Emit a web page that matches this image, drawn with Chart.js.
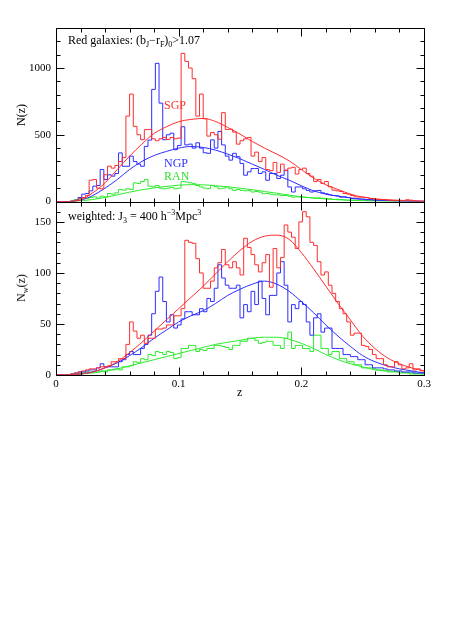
<!DOCTYPE html>
<html>
<head>
<meta charset="utf-8">
<script src="https://cdn.jsdelivr.net/npm/chart.js@4.4.0/dist/chart.umd.min.js"></script>
<style>
  body { margin: 0; background: #fff; }
  #wrap { position: relative; width: 463px; height: 625px; }
  #nz { position: absolute; left: 0; top: 0; }
  .lbl { position: absolute; font-family: "Liberation Serif", serif; font-size: 12px; color: #000; white-space: nowrap; line-height: 12px; }
  .lbl sub, .lbl sup { font-size: 8px; line-height: 0; }
  .lbl sub { vertical-align: -3px; }
  .lbl sup { vertical-align: 5px; }
  .ytitle { transform: translate(-50%, -50%) rotate(-90deg); }
</style>
</head>
<body>
<div id="wrap">
  <canvas id="nz" width="463" height="625"></canvas>
  <div class="lbl" style="left:68px;top:34px;">Red galaxies: (b<sub>J</sub>&minus;r<sub>F</sub>)<sub>0</sub>&gt;1.07</div>
  <div class="lbl" style="left:68px;top:210px;">weighted: J<sub>3</sub> = 400 h<sup>&minus;3</sup>Mpc<sup>3</sup></div>
  <div class="lbl" style="left:164px;top:99px;color:#ff3030;">SGP</div>
  <div class="lbl" style="left:164px;top:157px;color:#3030ff;">NGP</div>
  <div class="lbl" style="left:164px;top:170px;color:#30e030;">RAN</div>
  <div class="lbl ytitle" style="left:21px;top:115px;">N(z)</div>
  <div class="lbl ytitle" style="left:21px;top:288px;">N<sub>w</sub>(z)</div>
  <div class="lbl" style="left:237px;top:386px;">z</div>
</div>
<script>
// histogram bins of width 0.003 in z, from 0 to 0.3
const binWidth = 0.003;

const sgpTop = [
  0,0,0,0,2,8,20,30,45,160,
  165,100,95,200,265,250,270,300,330,640,
  805,563,500,463,538,540,470,455,470,480,
  465,480,470,475,1110,1050,1000,920,640,805,
  620,490,517,500,467,666,540,542,520,430,
  455,470,480,340,370,300,330,240,231,293,
  218,280,231,250,256,206,240,250,210,190,
  150,165,135,150,110,85,80,75,60,55,
  45,35,33,33,30,22,20,15,15,14,
  12,10,10,9,8,13,10,5,4,3];
const ngpTop = [
  0,0,0,0,3,10,30,55,60,80,
  115,120,240,165,200,190,210,364,264,264,
  340,300,280,264,413,460,840,1035,737,463,
  500,512,388,420,560,424,430,400,440,400,
  365,361,462,400,525,424,340,310,361,336,
  285,197,222,247,247,210,222,159,210,210,
  172,197,235,109,71,109,109,95,83,71,
  80,83,65,58,50,45,42,33,35,30,
  22,20,18,17,13,14,12,10,9,8,
  7,6,5,4,3,3,2,2,1,1];
const ranTop = [
  0,0,0,0,5,15,20,25,20,30,
  35,25,40,35,60,55,65,90,85,95,
  90,140,135,150,165,115,110,120,100,95,
  100,105,95,100,150,146,140,134,120,109,
  100,96,121,110,96,100,109,95,83,90,
  83,80,83,71,75,70,58,60,55,50,
  50,45,45,40,33,35,33,33,30,28,
  25,27,25,22,20,15,17,15,12,10,
  10,9,8,7,6,5,5,4,4,3,
  3,2,2,2,1,1,1,1,0,0];

const sgpBot = [
  0,0,0,0,1,2,3,4,5,6,
  6,7,8,8,9,13,13,16,16,30,
  52,43,36,39,31,36,36,45,45,46,
  49,49,58,58,65,132,130,129,114,100,
  85,85,92,105,110,123,108,105,111,105,
  98,134,125,118,108,101,110,118,86,124,
  105,115,147,140,135,124,150,160,155,130,
  127,111,98,101,88,80,72,65,60,52,
  39,41,41,29,28,25,20,16,16,10,
  8,8,13,10,6,7,11,5,6,4];
const ngpBot = [
  0,0,0,0,1,2,3,3,4,5,
  5,7,11,8,8,8,8,13,15,20,
  23,20,20,26,30,39,60,82,96,72,
  52,59,46,49,55,62,62,59,59,65,
  62,75,72,85,108,95,88,85,85,88,
  56,69,62,82,69,92,75,59,78,78,
  100,111,88,52,69,65,72,69,52,39,
  56,60,42,46,46,26,26,26,20,20,
  18,18,15,15,10,10,7,7,7,6,
  5,5,4,4,3,3,3,2,2,2];
const ranBot = [
  0,0,0,0,1,1,2,2,3,3,
  3,3,4,3,5,5,6,5,8,8,
  9,13,12,16,15,20,19,23,22,20,
  23,22,16,17,26,26,29,29,23,25,
  24,26,26,29,29,28,27,25,29,29,
  33,33,36,36,34,31,32,33,33,29,
  29,26,36,42,26,29,29,26,26,23,
  39,39,26,26,20,23,23,16,16,13,
  13,10,10,7,7,7,6,5,5,4,
  3,3,3,2,2,2,1,1,1,1];

// smooth model curves (random catalogue), sampled every 0.01
const zModel = [0,0.01,0.02,0.03,0.04,0.05,0.06,0.07,0.08,0.09,0.10,0.11,0.12,0.13,0.14,0.15,
                0.16,0.17,0.18,0.19,0.20,0.21,0.22,0.23,0.24,0.25,0.26,0.27,0.28,0.29,0.30];
const sgpTopModel = [0,0,12,65,140,240,340,430,510,560,598,615,622,600,555,505,450,400,355,305,240,175,125,90,55,33,20,12,6,3,1];
const ngpTopModel = [0,0,10,45,100,165,240,300,345,375,400,412,405,385,355,320,280,240,197,160,118,80,55,40,27,17,11,7,4,2,1];
const ranTopModel = [0,0,4,15,30,50,70,88,102,113,122,126,125,118,110,100,88,75,62,48,35,26,19,13,9,6,4,3,2,1,0];
const sgpBotModel = [0,0,1,3,7,13,22,32,43,54,65,76,87,99,111,122,131,136,137,133,120,104,87,70,54,38,26,17,11,7,4];
const ngpBotModel = [0,0,1,3,7,12,19,27,36,44,52,58,63,70,78,84,89,92,89,82,72,61,49,38,28,19,13,9,6,4,2];
const ranBotModel = [0,0,1,2,4,6,9,12,15,18,21,24,27,30,32,34,36,37,37,35,31,26,20,15,11,8,5,4,3,2,1];

const xTickLabels = ['0', '0.1', '0.2', '0.3'];
const yTopTicks = [0, 500, 1000];
const yBotTicks = [0, 50, 100, 150];

const red = 'rgb(255,45,45)';
const blue = 'rgb(45,45,255)';
const green = 'rgb(45,235,45)';

function hist(vals) {
  const pts = vals.map((v, i) => ({ x: i * binWidth, y: v }));
  pts.push({ x: vals.length * binWidth, y: vals[vals.length - 1] });
  return pts;
}
function curve(vals) {
  return zModel.map((z, i) => ({ x: z, y: vals[i] }));
}
function histSet(vals, color, axis) {
  return { data: hist(vals), yAxisID: axis, borderColor: color, borderWidth: 1,
           stepped: true, pointRadius: 0, fill: false };
}
function curveSet(vals, color, axis) {
  return { data: curve(vals), yAxisID: axis, borderColor: color, borderWidth: 1,
           cubicInterpolationMode: 'monotone', pointRadius: 0, fill: false };
}

// panel frames with inward ticks on all four sides
const panels = [
  { id: 'yTop', max: 1300, minor: 100, major: 500 },
  { id: 'yBot', max: 170, minor: 10, major: 50 }
];
const frameTicks = {
  id: 'frameTicks',
  afterDatasetsDraw(chart) {
    const ctx = chart.ctx;
    const xs = chart.scales.x;
    const left = Math.round(chart.chartArea.left) + 0.5;
    const right = Math.round(chart.chartArea.right) + 0.5;
    ctx.save();
    ctx.strokeStyle = '#000';
    ctx.lineWidth = 1;
    ctx.beginPath();
    panels.forEach(p => {
      const ys = chart.scales[p.id];
      const top = Math.round(ys.top) + 0.5;
      const bottom = Math.round(ys.bottom) + 0.5;
      ctx.rect(left, top, right - left, bottom - top);
      for (let k = 0; k <= 15; k++) {
        const px = Math.round(xs.getPixelForValue(k * 0.02)) + 0.5;
        const len = k % 5 === 0 ? 8 : 4;
        ctx.moveTo(px, bottom); ctx.lineTo(px, bottom - len);
        ctx.moveTo(px, top); ctx.lineTo(px, top + len);
      }
      for (let v = 0; v <= p.max; v += p.minor) {
        const py = Math.round(ys.getPixelForValue(v)) + 0.5;
        const len = v % p.major === 0 ? 8 : 4;
        ctx.moveTo(left, py); ctx.lineTo(left + len, py);
        ctx.moveTo(right, py); ctx.lineTo(right - len, py);
      }
    });
    ctx.stroke();
    ctx.restore();
  }
};

const tickFont = { family: '"Liberation Serif", serif', size: 11 };

function yScale(max, tickVals) {
  return {
    type: 'linear', position: 'left', stack: 'panels', stackWeight: 1,
    min: 0, max: max,
    grid: { display: false, drawTicks: false },
    border: { display: false },
    ticks: { color: '#000', font: tickFont, padding: 5, callback: (v) => String(v) },
    afterBuildTicks(s) { s.ticks = tickVals.map(v => ({ value: v })); },
    afterFit(s) { s.width = 56; }
  };
}

new Chart(document.getElementById('nz'), {
  type: 'line',
  data: {
    datasets: [
      histSet(sgpTop, red, 'yTop'), curveSet(sgpTopModel, red, 'yTop'),
      histSet(ngpTop, blue, 'yTop'), curveSet(ngpTopModel, blue, 'yTop'),
      histSet(ranTop, green, 'yTop'), curveSet(ranTopModel, green, 'yTop'),
      histSet(sgpBot, red, 'yBot'), curveSet(sgpBotModel, red, 'yBot'),
      histSet(ngpBot, blue, 'yBot'), curveSet(ngpBotModel, blue, 'yBot'),
      histSet(ranBot, green, 'yBot'), curveSet(ranBotModel, green, 'yBot')
    ]
  },
  options: {
    responsive: false,
    animation: false,
    devicePixelRatio: 1,
    layout: { padding: { top: 28, right: 39, left: 0, bottom: 230 } },
    plugins: { legend: { display: false }, tooltip: { enabled: false } },
    scales: {
      x: {
        type: 'linear', min: 0, max: 0.3,
        grid: { display: false, drawTicks: false },
        border: { display: false },
        ticks: {
          stepSize: 0.1, maxRotation: 0, color: '#000', font: tickFont, padding: 3,
          callback: (v) => xTickLabels[Math.round(v * 10)]
        },
        afterFit(s) { s.height = 20; }
      },
      // left-stacked axes are laid out in reverse order: the later key sits on top
      yBot: yScale(170, yBotTicks),
      yTop: yScale(1300, yTopTicks)
    }
  },
  plugins: [frameTicks]
});
</script>
</body>
</html>
